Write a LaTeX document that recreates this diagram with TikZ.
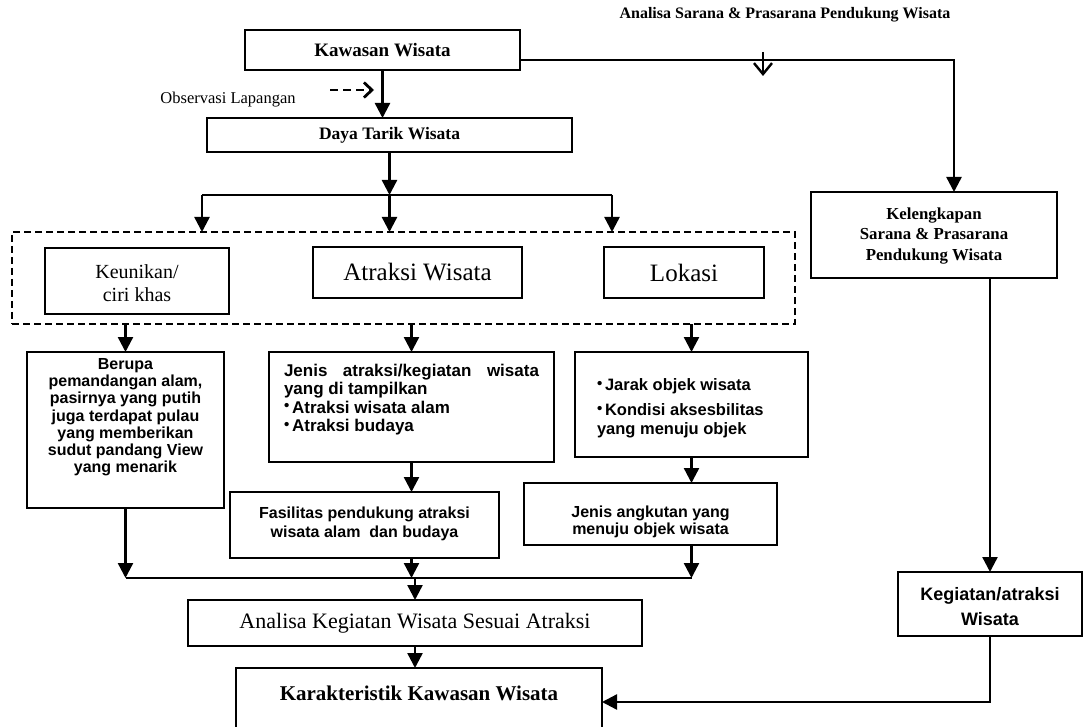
\documentclass[tikz,border=0pt]{standalone}
\usepackage{fontspec}
\setmainfont{Liberation Serif}
\setsansfont{Liberation Sans}
\usetikzlibrary{arrows.meta}
\newcommand\fs[2]{\fontsize{#1}{#2}\selectfont}
\newcommand\tb[3]{\raisebox{#1}[0pt][0pt]{\begin{tabular}{@{}#2@{}}#3\end{tabular}}}
\newcommand\bul{{\fontsize{15}{15}\selectfont\raisebox{2.5pt}{\textbullet}}\,}
\begin{document}
\begin{tikzpicture}[x=1pt,y=-1pt,
  box/.style={draw, line width=2.4pt, inner sep=0pt, outer sep=0pt},
  arr/.style={line width=2.4pt, -{Triangle[length=15pt,width=15pt]}},
  ln/.style={line width=2.4pt},
  sans/.style={font=\sffamily\bfseries\fs{16}{17.2}}]
\useasboundingbox (0,0) rectangle (1084,727);

% boxes
\node[box, minimum width=275pt, minimum height=40pt, font=\fs{19}{22}\bfseries] (kaw) at (382.5,50) {Kawasan Wisata};
\node[box, minimum width=365pt, minimum height=34pt, font=\fs{17.5}{20}\bfseries] (daya) at (389.5,135) {Daya Tarik Wisata};
\node[draw, line width=2.4pt, dash pattern=on 7pt off 4pt, minimum width=783pt, minimum height=92pt, inner sep=0pt, outer sep=0pt] (grp) at (403.5,278) {};
\node[box, minimum width=184pt, minimum height=66pt, font=\fs{20}{23}] (keun) at (137,281) {\tb{-10pt}{c}{Keunikan/\\ciri khas}};
\node[box, minimum width=209pt, minimum height=51pt, font=\fs{25}{28}] (atr) at (417.5,272.5) {Atraksi Wisata};
\node[box, minimum width=160pt, minimum height=51pt, font=\fs{25}{28}] (lok) at (684,272.5) {Lokasi};
\node[box, minimum width=246pt, minimum height=86pt, font=\fs{16.8}{20.5}\bfseries] (kel) at (934,235) {\tb{-5pt}{c}{Kelengkapan\\Sarana \& Prasarana\\Pendukung Wisata}};
\node[box, sans, minimum width=197pt, minimum height=156pt] (ber) at (125.5,430) {\tb{8pt}{c}{Berupa\\pemandangan alam,\\pasirnya yang putih\\juga terdapat pulau\\yang memberikan\\sudut pandang View\\yang menarik}};
\node[box, font=\sffamily\bfseries\fs{17}{18}, minimum width=285pt, minimum height=110pt] (jen) at (411.5,407) {\tb{2pt}{l}{\makebox[255pt][s]{Jenis atraksi/kegiatan wisata}\\yang di tampilkan\\[0.5pt]\bul Atraksi wisata alam\\[0.5pt]\bul Atraksi budaya}};
\node[box, font=\sffamily\bfseries\fs{16.5}{19}, minimum width=233pt, minimum height=105pt] (jar) at (691.5,404.5) {\tb{-9pt}{p{189pt}}{\bul Jarak objek wisata\\[6pt]\bul Kondisi aksesbilitas\\yang menuju objek}};
\node[box, font=\sffamily\bfseries\fs{16}{19}, minimum width=269pt, minimum height=66pt] (fas) at (364.5,525) {\tb{-3.5pt}{c}{Fasilitas pendukung atraksi\\wisata alam\ \ dan budaya}};
\node[box, font=\sffamily\bfseries\fs{16}{17}, minimum width=253pt, minimum height=62pt] (ang) at (650.5,514) {\tb{-12.5pt}{c}{Jenis angkutan yang\\menuju objek wisata}};
\node[box, font=\sffamily\bfseries\fs{18}{25}, minimum width=184pt, minimum height=64pt] (keg) at (990,604) {\tb{-8pt}{c}{Kegiatan/atraksi\\Wisata}};
\node[box, font=\fs{22}{25}, minimum width=454pt, minimum height=46pt] (ana) at (415,623) {Analisa Kegiatan Wisata Sesuai Atraksi};
\node[inner sep=0pt, outer sep=0pt, minimum width=366pt, minimum height=68pt, font=\fs{21}{24}\bfseries] (kar) at (419,702) {\raisebox{2pt}[0pt][0pt]{Karakteristik Kawasan Wisata}};
\draw[ln] (kar.south west) -- (kar.north west) -- (kar.north east) -- (kar.south east);

% free labels
\node[font=\fs{16.5}{19}] (obs) at (228,100) {Observasi Lapangan};
\node[font=\fs{16}{19}\bfseries] (asp) at (785,15) {Analisa Sarana \& Prasarana Pendukung Wisata};

% connectors
\coordinate (k1) at (954,60);
\draw[arr] (kaw.east |- k1) -- (k1) -- (k1 |- kel.north);
\draw[arr] (kaw.south) -- (kaw.south |- daya.north);
\coordinate (o1) at (330,90);
\coordinate (o2) at (374,90);
\draw[line width=2.6pt, dash pattern=on 8pt off 5pt, -{Straight Barb[length=8pt,width=15pt,line width=2.8pt]}] (o1) -- (o2);
\coordinate (v1) at (763,52);
\coordinate (v2) at (763,76);
\draw[line width=2pt, -{Straight Barb[length=11pt,width=18pt,line width=2.4pt]}] (v1) -- (v2);

\coordinate (b0) at (389.5,195);
\coordinate (bL) at (202,195);
\coordinate (bR) at (612,195);
\draw[arr] (daya.south) -- (b0);
\draw[ln] (bL) -- (bR);
\draw[arr] (bL) -- (bL |- grp.north);
\draw[arr] (b0) -- (b0 |- grp.north);
\draw[arr] (bR) -- (bR |- grp.north);

\draw[arr] (grp.south -| ber.north) -- (ber.north);
\draw[arr] (grp.south -| jen.north) -- (jen.north);
\draw[arr] (grp.south -| jar.north) -- (jar.north);
\draw[arr] (jen.south) -- (jen.south |- fas.north);
\draw[arr] (jar.south) -- (jar.south |- ang.north);

\coordinate (c0) at (415,578);
\draw[arr] (ber.south) -- (ber.south |- c0);
\draw[arr] (jen.south |- fas.south) -- (jen.south |- c0);
\draw[arr] (jar.south |- ang.south) -- (jar.south |- c0);
\draw[ln] (ber.south |- c0) -- (jar.south |- c0);
\draw[arr] (c0) -- (c0 |- ana.north);
\draw[arr] (ana.south) -- (ana.south |- kar.north);
\draw[arr] (keg.north |- kel.south) -- (keg.north);
\draw[arr] (keg.south) |- (kar.east);
\end{tikzpicture}
\end{document}
